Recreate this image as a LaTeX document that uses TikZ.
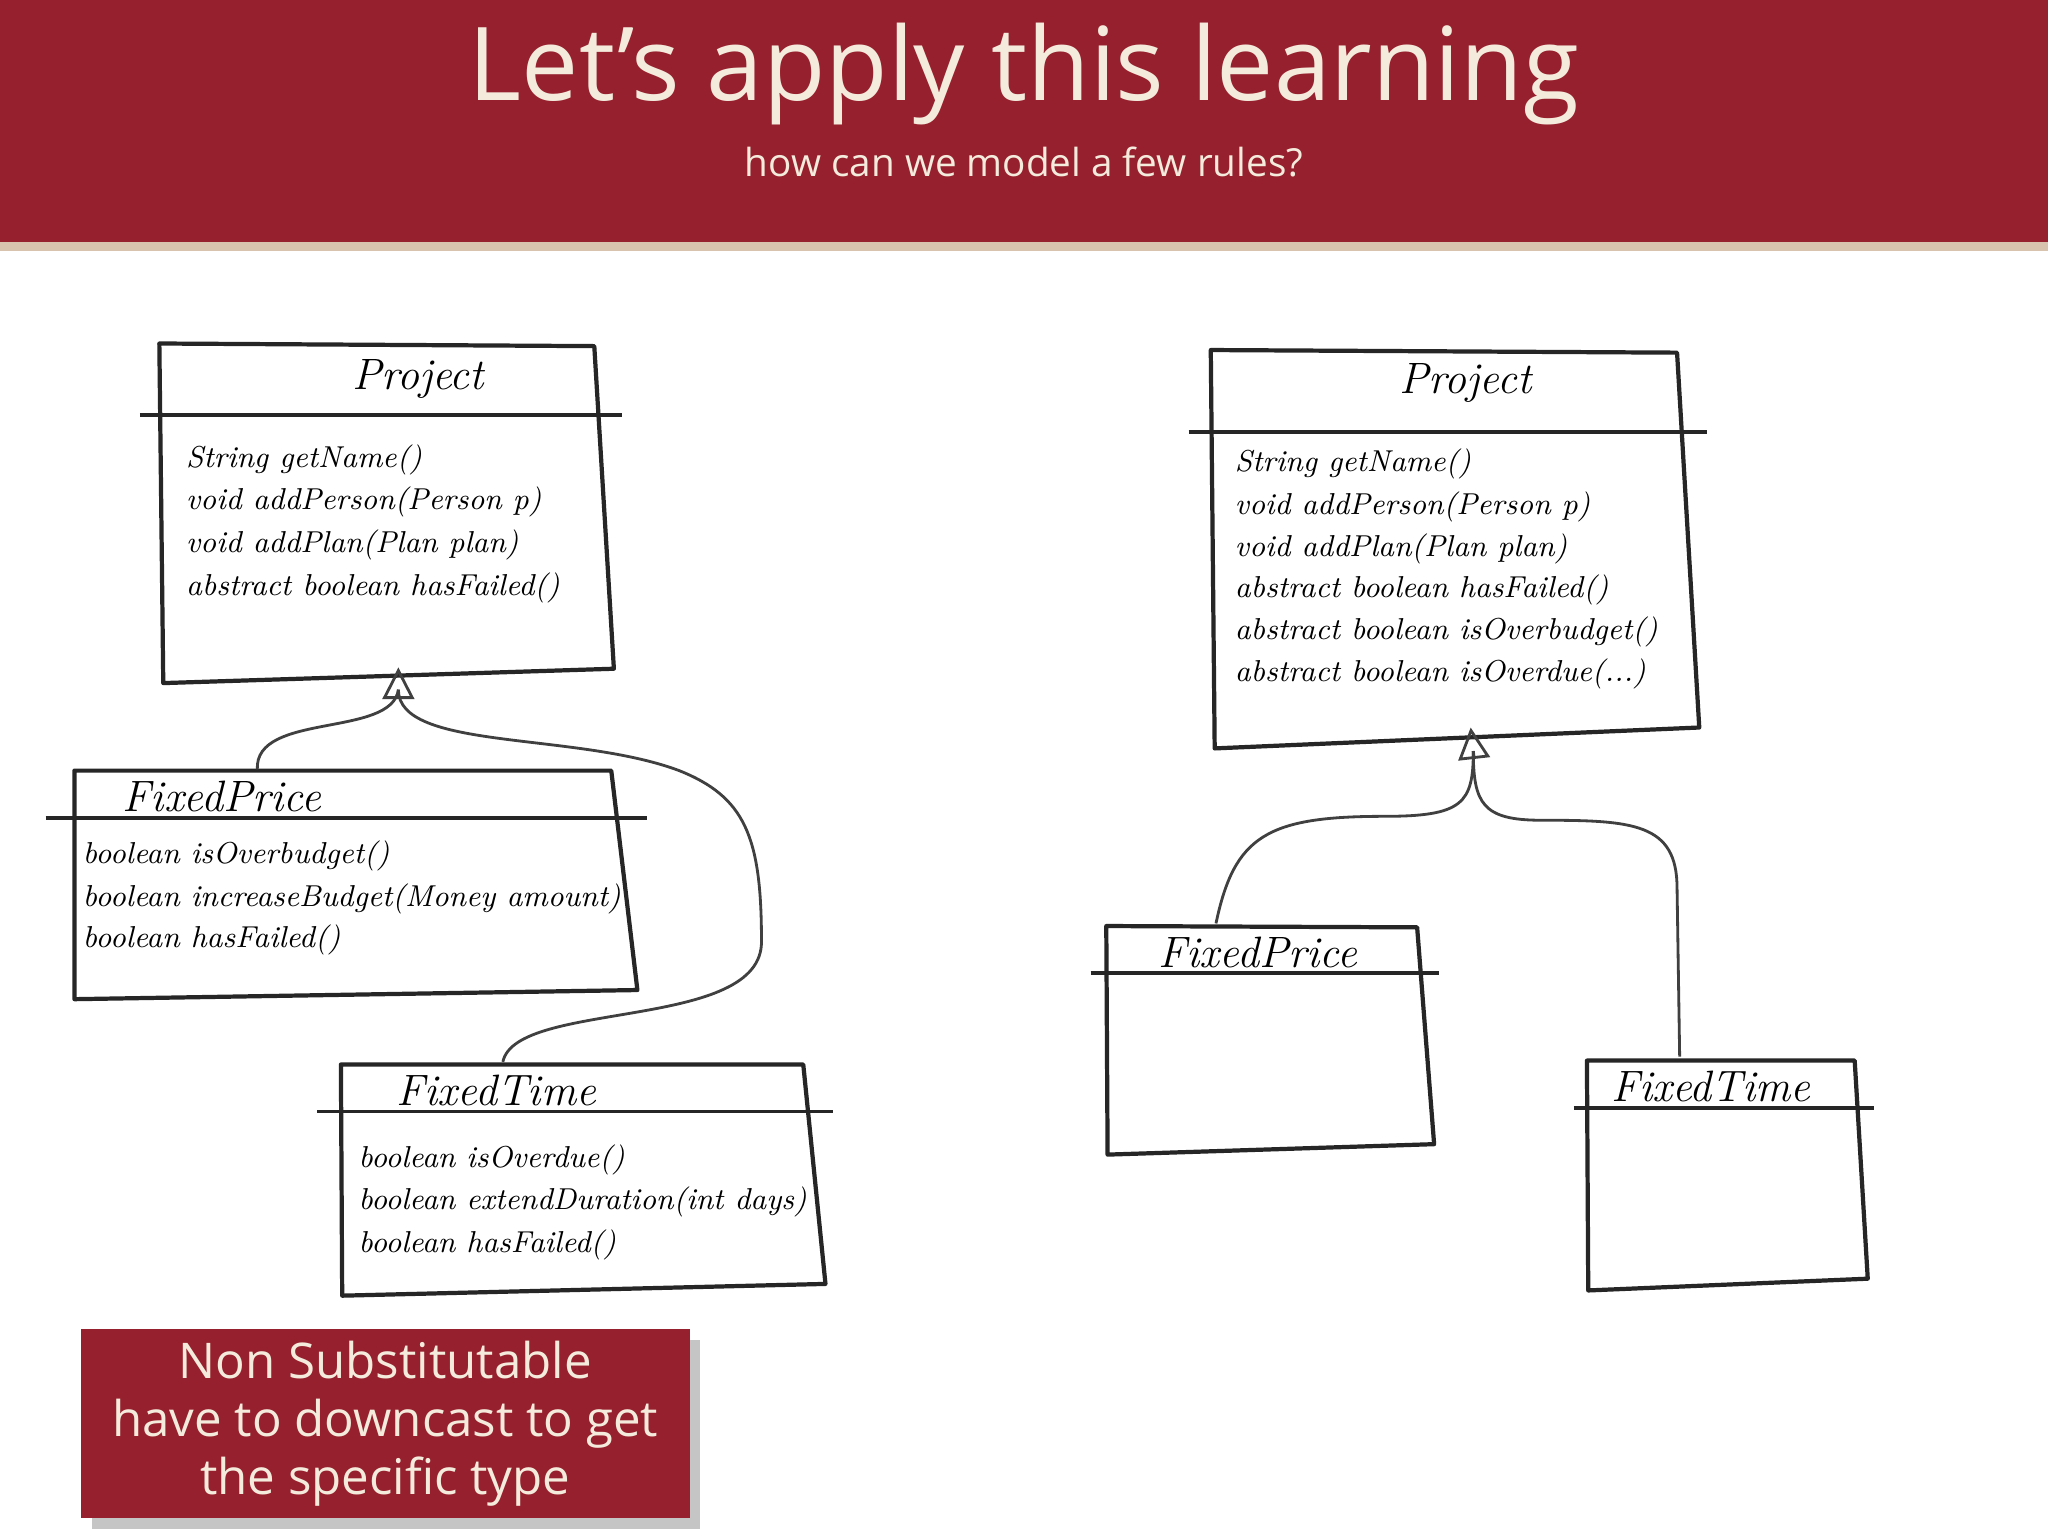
\documentclass[tikz,border=0pt]{standalone}
\usepackage{fontspec}
\newfontfamily\headfont{Open Sans}
\usetikzlibrary{arrows.meta,shadows}
\definecolor{wine}{HTML}{96202D}
\definecolor{cream}{HTML}{F4EBDD}
\definecolor{stripe}{HTML}{D8C3AE}
\tikzset{
 box/.style={draw=black!85,line width=1.2pt,line join=round},
 div/.style={draw=black!85,line width=1.1pt},
 ttl/.style={font=\fontsize{12.5}{14}\selectfont\itshape},
 meth/.style={anchor=west,font=\fontsize{8.6}{10}\selectfont\itshape,inner sep=0pt},
 conn/.style={draw=black!75,line width=0.8pt},
 inh/.style={-{Triangle[open,length=9pt,width=9pt]},conn},
}
\begin{document}
\begin{tikzpicture}[x=0.013061cm,y=-0.013061cm]
\useasboundingbox (0,0) rectangle (1568,1176);
\fill[white] (0,0) rectangle (1568,1176);
\fill[wine] (0,0) rectangle (1568,185);
\fill[stripe] (0,185) rectangle (1568,192);
\node[text=cream,font=\headfont\fontsize{29}{33}\selectfont] (title) at (784,57) {Let’s apply this learning};
\node[text=cream,font=\headfont\fontsize{11}{13}\selectfont] (sub) at (784,124) {how can we model a few rules?};

% left Project
\draw[box] (122,263) -- (455,265) -- (470,512) -- (125,523) -- cycle;
\draw[div] (107,318) -- (476,318);
\node[ttl] (lp) at (320,290) {Project};
\node[meth] (lp1) at (142,352) {String getName()};
\node[meth] (lp2) at (142,384) {void addPerson(Person p)};
\node[meth] (lp3) at (142,417) {void addPlan(Plan plan)};
\node[meth] (lp4) at (142,450) {abstract boolean hasFailed()};
\coordinate (lpa) at (305,511);

% left FixedPrice
\draw[box] (57,590) -- (468,590) -- (488,758) -- (57,765) -- cycle;
\draw[div] (35,626) -- (495,626);
\node[ttl] (lfp) at (170,610) {FixedPrice};
\node[meth] (lfp1) at (63,655) {boolean isOverbudget()};
\node[meth] (lfp2) at (63,688) {boolean increaseBudget(Money amount)};
\node[meth] (lfp3) at (63,720) {boolean hasFailed()};
\coordinate (lfpt) at (197,589);

% left FixedTime
\draw[box] (261,815) -- (615,815) -- (632,983) -- (262,992) -- cycle;
\draw[div] (243,851) -- (638,851);
\node[ttl] (lft) at (380,835) {FixedTime};
\node[meth] (lft1) at (274,888) {boolean isOverdue()};
\node[meth] (lft2) at (274,920) {boolean extendDuration(int days)};
\node[meth] (lft3) at (274,953) {boolean hasFailed()};
\coordinate (lftt) at (385,813);

\draw[conn] (lfpt) .. controls (195,545) and (300,565) .. (305,528);
\draw[conn] (lftt) .. controls (395,765) and (585,790) .. (583,720)
   .. controls (583,640) and (570,610) .. (520,590)
   .. controls (440,560) and (305,575) .. (305,528);
\draw[inh] (305,528) -- (lpa);

% right Project
\draw[box] (927,268) -- (1284,270) -- (1301,557) -- (930,573) -- cycle;
\draw[div] (910,331) -- (1307,331);
\node[ttl] (rp) at (1122,293) {Project};
\node[meth] (rp1) at (945,355) {String getName()};
\node[meth] (rp2) at (945,388) {void addPerson(Person p)};
\node[meth] (rp3) at (945,420) {void addPlan(Plan plan)};
\node[meth] (rp4) at (945,452) {abstract boolean hasFailed()};
\node[meth] (rp5) at (945,484) {abstract boolean isOverbudget()};
\node[meth] (rp6) at (945,516) {abstract boolean isOverdue(...)};
\coordinate (rpa) at (1126,557);

% right FixedPrice
\draw[box] (847,709) -- (1085,710) -- (1098,876) -- (848,884) -- cycle;
\draw[div] (835,745) -- (1102,745);
\node[ttl] (rfp) at (963,729) {FixedPrice};
\coordinate (rfpt) at (931,707);

% right FixedTime
\draw[box] (1215,812) -- (1420,812) -- (1430,979) -- (1216,988) -- cycle;
\draw[div] (1205,848) -- (1435,848);
\node[ttl] (rft) at (1310,832) {FixedTime};
\coordinate (rftt) at (1286,809);

\draw[conn] (rfpt) .. controls (945,640) and (970,625) .. (1060,625)
   .. controls (1120,625) and (1128,615) .. (1128,575);
\draw[conn] (rftt) -- (1284,680) .. controls (1284,630) and (1250,628) .. (1180,628)
   .. controls (1135,628) and (1128,615) .. (1128,575);
\draw[inh] (1128,575) -- (rpa);

% callout
\node[fill=wine,drop shadow={opacity=0.45,shadow xshift=3pt,shadow yshift=-3pt},minimum width=466*0.013061cm,minimum height=145*0.013061cm,text=cream,align=center,font=\headfont\fontsize{14}{16.5}\selectfont] (note) at (295,1090)
 {Non Substitutable\\have to downcast to get\\the specific type};
\end{tikzpicture}
\end{document}
